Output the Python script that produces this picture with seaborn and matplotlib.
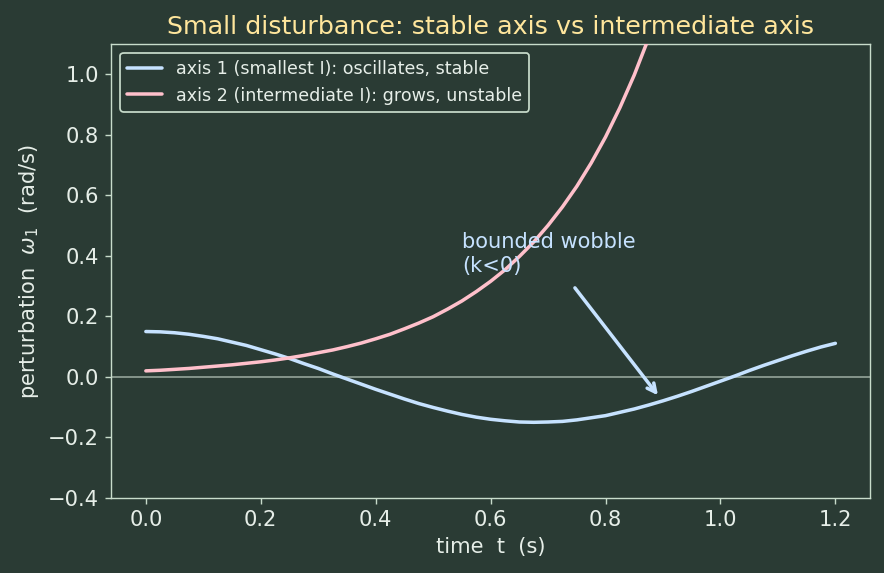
import numpy as np
import pandas as pd
import seaborn as sns
import matplotlib
matplotlib.use("Agg")
import matplotlib.pyplot as plt

# values (every 0.025 s)
t_stable = [0.000, 0.025, 0.050, 0.075, 0.100, 0.125, 0.150, 0.175, 0.200, 0.225,
            0.250, 0.275, 0.300, 0.325, 0.350, 0.375, 0.400, 0.425, 0.450, 0.475,
            0.500, 0.525, 0.550, 0.575, 0.600, 0.625, 0.650, 0.675, 0.700, 0.725,
            0.750, 0.775, 0.800, 0.825, 0.850, 0.875, 0.900, 0.925, 0.950, 0.975,
            1.000, 1.025, 1.050, 1.075, 1.100, 1.125, 1.150, 1.175, 1.200]
w_stable = [0.150, 0.149, 0.146, 0.141, 0.134, 0.126, 0.115, 0.104, 0.090, 0.076,
            0.061, 0.044, 0.028, 0.010, -0.007, -0.024, -0.041, -0.057, -0.073, -0.088,
            -0.101, -0.113, -0.124, -0.133, -0.140, -0.145, -0.149, -0.150, -0.149, -0.147,
            -0.142, -0.135, -0.128, -0.117, -0.106, -0.093, -0.079, -0.064, -0.048, -0.031,
            -0.014, 0.003, 0.021, 0.038, 0.054, 0.070, 0.085, 0.099, 0.111]

t_unstable = [0.000, 0.025, 0.050, 0.075, 0.100, 0.125, 0.150, 0.175, 0.200, 0.225,
              0.250, 0.275, 0.300, 0.325, 0.350, 0.375, 0.400, 0.425, 0.450, 0.475,
              0.500, 0.525, 0.550, 0.575, 0.600, 0.625, 0.650, 0.675, 0.700, 0.725,
              0.750, 0.775, 0.800, 0.825, 0.850, 0.875, 0.900]
w_unstable = [0.020, 0.022, 0.025, 0.028, 0.032, 0.036, 0.040, 0.045, 0.050, 0.056,
              0.063, 0.071, 0.080, 0.089, 0.100, 0.112, 0.126, 0.141, 0.159, 0.178,
              0.199, 0.224, 0.251, 0.282, 0.316, 0.354, 0.398, 0.446, 0.501, 0.562,
              0.630, 0.707, 0.793, 0.890, 0.998, 1.120, 1.256]

labels = ["axis 1 (smallest I): oscillates, stable",
          "axis 2 (intermediate I): grows, unstable"]

bg = "#2a3b34"
fg = "#e6eee8"
spine_col = "#c8dccb"
blue = "#c6e2ff"
pink = "#ffc0cb"

sns.set_theme(style="dark", rc={
    "figure.facecolor": bg,
    "axes.facecolor": bg,
    "axes.edgecolor": spine_col,
    "axes.labelcolor": fg,
    "xtick.color": fg,
    "ytick.color": fg,
    "text.color": fg,
    "axes.grid": False,
    "xtick.bottom": True,
    "ytick.left": True,
})
plt.rcParams["font.family"] = ["DejaVu Sans"]

df1 = pd.DataFrame({"t": t_stable, "w": w_stable, "series": labels[0]})
df2 = pd.DataFrame({"t": t_unstable, "w": w_unstable, "series": labels[1]})
df = pd.concat([df1, df2], ignore_index=True)

fig, ax = plt.subplots(figsize=(884 / 126, 573 / 126), dpi=126)
ax.axhline(0, color="#8f9f95", lw=1.0, zorder=1)
sns.lineplot(data=df, x="t", y="w", hue="series", palette=[blue, pink],
             linewidth=2, ax=ax, zorder=3)

ax.set_xlim(-0.06, 1.26)
ax.set_ylim(-0.4, 1.1)
ax.set_xticks([0.0, 0.2, 0.4, 0.6, 0.8, 1.0, 1.2])
ax.tick_params(labelsize=12, length=3.5, width=0.8, color=spine_col)
for s in ax.spines.values():
    s.set_linewidth(0.8)

ax.set_title("Small disturbance: stable axis vs intermediate axis",
             color="#ffe69c", fontsize=14.5)
ax.set_xlabel("time  t  (s)", fontsize=12)
ax.set_ylabel(r"perturbation  $\omega_1$  (rad/s)", fontsize=12)

ax.annotate("bounded wobble\n(k<0)", xy=(0.895, -0.07), xytext=(0.55, 0.335),
            color=blue, fontsize=12, va="bottom", ha="left",
            arrowprops=dict(arrowstyle="->", lw=2, color=blue, shrinkA=6))

leg = ax.legend(loc="upper left", fontsize=10, facecolor=bg, edgecolor=spine_col,
                framealpha=1, title=None)
for txt in leg.get_texts():
    txt.set_color(fg)

fig.subplots_adjust(left=0.126, right=0.984, top=0.923, bottom=0.131)
fig.savefig("out.png", dpi=126, facecolor=bg)
